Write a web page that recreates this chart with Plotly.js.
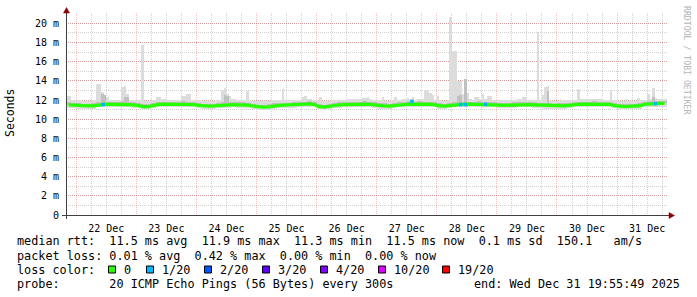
<!DOCTYPE html>
<html>
<head>
<meta charset="utf-8">
<script src="https://cdn.plot.ly/plotly-3.0.1.min.js"></script>
<style>html,body{margin:0;padding:0;background:#fff;}#chart{width:697px;height:297px;}</style>
</head>
<body>
<div id="chart"></div>
<script>
// ---------- DATA ----------
// 2-hour bins starting 2025-12-21 20:00
const binStartTime = '2025-12-21T20:00:00Z';
const binHours = 2;
const medianRtt = [
  11.50, 11.47,
  11.40, 11.37, 11.38, 11.40, 11.50, 11.55, 11.56, 11.55, 11.57, 11.56, 11.55, 11.50,
  11.42, 11.30, 11.32, 11.45, 11.55, 11.57, 11.56, 11.55, 11.57, 11.58, 11.56, 11.52,
  11.45, 11.38, 11.36, 11.38, 11.42, 11.47, 11.50, 11.52, 11.50, 11.49, 11.47, 11.35,
  11.26, 11.25, 11.28, 11.40, 11.45, 11.46, 11.47, 11.48, 11.52, 11.58, 11.60, 11.55,
  11.30, 11.27, 11.33, 11.45, 11.50, 11.52, 11.54, 11.55, 11.57, 11.58, 11.56, 11.50,
  11.40, 11.38, 11.37, 11.42, 11.52, 11.55, 11.57, 11.56, 11.58, 11.57, 11.56, 11.52,
  11.40, 11.37, 11.42, 11.53, 11.55, 11.56, 11.57, 11.56, 11.58, 11.57, 11.56, 11.55,
  11.46, 11.44, 11.47, 11.50, 11.52, 11.53, 11.52, 11.50, 11.48, 11.40, 11.38, 11.37,
  11.38, 11.40, 11.45, 11.54, 11.56, 11.57, 11.56, 11.58, 11.57, 11.56, 11.55, 11.42,
  11.33, 11.32, 11.34, 11.33, 11.40, 11.55, 11.60, 11.62, 11.64, 11.64
];
const smokeLo = [
  11.20, 11.18,
  11.10, 11.08, 11.08, 11.10, 11.22, 11.25, 11.26, 11.25, 11.27, 11.26, 11.25, 11.20,
  11.12, 11.02, 11.04, 11.15, 11.25, 11.27, 11.26, 11.25, 11.27, 11.28, 11.26, 11.22,
  11.15, 11.08, 11.06, 11.08, 11.12, 11.17, 11.20, 11.22, 11.20, 11.19, 11.17, 11.05,
  10.98, 10.97, 11.00, 11.10, 11.15, 11.16, 11.17, 11.18, 11.22, 11.28, 11.30, 11.25,
  11.02, 10.99, 11.04, 11.15, 11.20, 11.22, 11.24, 11.25, 11.27, 11.28, 11.26, 11.20,
  11.10, 11.08, 11.07, 11.12, 11.22, 11.25, 11.27, 11.26, 11.28, 11.27, 11.26, 11.22,
  11.10, 11.07, 11.12, 11.23, 11.25, 11.26, 11.27, 11.26, 11.28, 11.27, 11.26, 11.25,
  11.16, 11.14, 11.17, 11.20, 11.22, 11.23, 11.22, 11.20, 11.18, 11.10, 11.08, 11.07,
  11.08, 11.10, 11.15, 11.24, 11.26, 11.27, 11.26, 11.28, 11.27, 11.26, 11.25, 11.12,
  11.04, 11.03, 11.05, 11.04, 11.10, 11.25, 11.30, 11.32, 11.32, 11.32
];
const smokeHi = [
  12.40, 12.05,
  11.95, 11.92, 11.93, 11.98, 12.05, 12.10, 12.05, 12.00, 12.05, 12.08, 12.05, 12.00,
  11.95, 11.90, 11.92, 12.00, 12.05, 12.08, 12.05, 12.03, 12.05, 12.10, 12.08, 12.02,
  11.98, 11.92, 11.90, 11.93, 11.98, 12.02, 12.05, 12.08, 12.05, 12.02, 12.00, 11.92,
  11.85, 11.85, 11.88, 11.95, 12.00, 12.02, 12.00, 12.02, 12.05, 12.10, 12.12, 12.05,
  11.88, 11.85, 11.90, 12.00, 12.05, 12.05, 12.08, 12.08, 12.10, 12.12, 12.10, 12.02,
  11.95, 11.93, 11.92, 12.00, 12.05, 12.10, 12.08, 12.05, 12.10, 12.08, 12.05, 12.02,
  11.95, 11.92, 11.98, 12.05, 12.08, 12.10, 12.08, 12.05, 12.10, 12.08, 12.05, 12.05,
  12.00, 11.98, 12.00, 12.05, 12.10, 12.08, 12.05, 12.02, 12.00, 11.95, 11.93, 11.92,
  11.92, 11.95, 12.00, 12.05, 12.08, 12.10, 12.08, 12.10, 12.08, 12.05, 12.05, 11.95,
  11.88, 11.87, 11.90, 11.88, 11.95, 12.05, 12.10, 12.12, 12.12, 12.12
];
const smokeMidHi = [
  11.78, 11.74,
  11.65, 11.62, 11.63, 11.66, 11.80, 11.88, 11.84, 11.80, 11.83, 11.85, 11.82, 11.76,
  11.68, 11.56, 11.58, 11.70, 11.80, 11.84, 11.82, 11.80, 11.82, 11.86, 11.83, 11.78,
  11.70, 11.63, 11.61, 11.63, 11.68, 11.75, 11.78, 11.80, 11.77, 11.76, 11.73, 11.60,
  11.52, 11.51, 11.54, 11.66, 11.71, 11.72, 11.73, 11.75, 11.78, 11.84, 11.86, 11.80,
  11.56, 11.53, 11.59, 11.71, 11.76, 11.78, 11.80, 11.82, 11.84, 11.85, 11.82, 11.76,
  11.66, 11.64, 11.63, 11.68, 11.78, 11.82, 11.85, 11.82, 11.86, 11.84, 11.82, 11.78,
  11.66, 11.63, 11.70, 11.80, 11.82, 11.84, 11.84, 11.82, 11.86, 11.84, 11.82, 11.81,
  11.72, 11.70, 11.73, 11.76, 11.80, 11.80, 11.78, 11.76, 11.74, 11.66, 11.64, 11.63,
  11.64, 11.66, 11.71, 11.80, 11.83, 11.84, 11.82, 11.85, 11.84, 11.82, 11.81, 11.68,
  11.59, 11.58, 11.60, 11.59, 11.66, 11.82, 11.87, 11.90, 11.90, 11.90
];
// high-ping smoke spikes (hourly)
const spikeTime = [
  '2025-12-22 08:30','2025-12-22 09:30','2025-12-22 10:30','2025-12-22 11:30','2025-12-22 12:30',
  '2025-12-22 18:30','2025-12-22 19:30','2025-12-22 20:30',
  '2025-12-23 02:30','2025-12-23 08:30','2025-12-23 09:30',
  '2025-12-23 18:30','2025-12-23 19:30','2025-12-23 20:30','2025-12-23 21:30',
  '2025-12-24 10:30','2025-12-24 11:30','2025-12-24 12:30','2025-12-24 13:30','2025-12-24 20:30',
  '2025-12-25 10:30','2025-12-25 18:30','2025-12-25 19:30',
  '2025-12-26 01:30','2025-12-26 18:30','2025-12-26 19:30','2025-12-26 20:30',
  '2025-12-27 02:30','2025-12-27 07:30','2025-12-27 12:30','2025-12-27 14:30',
  '2025-12-27 19:30','2025-12-27 20:30','2025-12-27 21:30','2025-12-27 22:30',
  '2025-12-28 00:30','2025-12-28 05:30','2025-12-28 06:30','2025-12-28 07:30','2025-12-28 08:30',
  '2025-12-28 09:30','2025-12-28 10:30','2025-12-28 11:30','2025-12-28 12:30',
  '2025-12-28 15:30','2025-12-28 16:30','2025-12-28 18:30','2025-12-28 20:30','2025-12-28 21:30',
  '2025-12-29 10:30','2025-12-29 11:30','2025-12-29 16:30','2025-12-29 18:30','2025-12-29 19:30','2025-12-29 20:30',
  '2025-12-30 08:30','2025-12-30 21:30',
  '2025-12-31 03:30','2025-12-31 08:30','2025-12-31 12:30','2025-12-31 14:30','2025-12-31 15:30'
];
const spikeMax = [
  13.7, 13.7, 12.8, 12.5, 12.3,
  13.4, 13.5, 12.6,
  17.7, 12.35, 12.3,
  12.4, 12.45, 12.6, 12.65,
  13.0, 13.3, 12.6, 12.4, 12.9,
  13.2, 12.35, 12.4,
  12.35, 12.2, 12.2, 12.3,
  12.3, 12.3, 12.25, 12.3,
  13.0, 13.0, 12.7, 12.5,
  12.4, 20.7, 17.1, 17.1, 14.0,
  14.0, 12.6, 14.2, 12.7,
  12.3, 12.3, 12.6, 12.4, 12.4,
  12.3, 12.3, 19.07, 12.5, 13.4, 13.45,
  13.2, 13.0,
  12.15, 12.2, 12.6, 13.3, 12.2
];
const spikeMid = [
  null, null, 12.6, 12.5, null,
  null, 12.3, 12.3,
  null, null, null,
  null, null, null, null,
  null, 12.5, 12.4, null, null,
  null, null, null,
  null, null, null, null,
  null, null, null, null,
  null, null, null, null,
  null, null, null, null, 12.4,
  12.5, null, 14.2, null,
  null, null, null, null, null,
  null, null, null, null, null, 12.9,
  null, null,
  null, null, null, 12.3, null
];
// pings with loss
const lossTime = ['2025-12-22 10:47','2025-12-27 14:06','2025-12-28 09:30','2025-12-28 11:30','2025-12-28 19:30','2025-12-31 15:20'];
const lossValue = [11.52, 11.85, 11.52, 11.52, 11.55, 11.62];
const lossIndex = [1, 1, 1, 1, 1, 1];
const lossLabels = ['0', '1/20', '2/20', '3/20', '4/20', '10/20', '19/20'];
const lossColors = ['#26ff00', '#00b8ff', '#0059ff', '#5e00ff', '#7e00ff', '#dd00ff', '#ff0000'];
const yTickVals = [0, 2, 4, 6, 8, 10, 12, 14, 16, 18, 20];
const yTickText = ['0', '2 m', '4 m', '6 m', '8 m', '10 m', '12 m', '14 m', '16 m', '18 m', '20 m'];
const statLines = [
  'median rtt:  11.5 ms avg  11.9 ms max  11.3 ms min  11.5 ms now  0.1 ms sd  150.1   am/s',
  'packet loss: 0.01 % avg  0.42 % max  0.00 % min  0.00 % now'
];
const probeText = 'probe:       20 ICMP Echo Pings (56 Bytes) every 300s';
const endText = 'end: Wed Dec 31 19:55:49 2025';

// ---------- LAYOUT HELPERS ----------
const W = 697, H = 297, L = 66, R = 667, T = 13, B = 215;
const px = x => (x - L) / (R - L);
const py = y => (B - y) / (B - T);
const nb = s => s.replace(/ /g, '\u00a0');
const MONO = 'DejaVu Sans Mono, monospace';

const t0 = Date.parse(binStartTime);
const binX = medianRtt.map((_, i) => t0 + (i * binHours + binHours / 2) * 3600e3);
const spikeBase = 11.6;

const LIGHT = '#dcdcdc', MID = '#c0c0c0';
const traces = [
  { type: 'bar', x: binX, base: smokeLo, y: smokeHi.map((v, i) => v - smokeLo[i]),
    width: binHours * 3600e3, marker: { color: LIGHT, line: { width: 0 } }, hoverinfo: 'skip' },
  { type: 'bar', x: spikeTime, base: spikeBase, y: spikeMax.map(v => v - spikeBase),
    width: 3600e3, marker: { color: LIGHT, line: { width: 0 } }, hoverinfo: 'skip' },
  { type: 'bar', x: binX, base: medianRtt, y: smokeMidHi.map((v, i) => v - medianRtt[i]),
    width: binHours * 3600e3, marker: { color: MID, line: { width: 0 } }, hoverinfo: 'skip' },
  { type: 'bar', x: spikeTime.filter((_, i) => spikeMid[i] !== null), base: spikeBase,
    y: spikeMid.filter(v => v !== null).map(v => v - spikeBase),
    width: 3600e3, marker: { color: MID, line: { width: 0 } }, hoverinfo: 'skip' },
  { type: 'scatter', mode: 'lines', x: binX, y: medianRtt,
    line: { color: lossColors[0], width: 3.3 }, hoverinfo: 'skip' },
  { type: 'scatter', mode: 'markers', x: lossTime, y: lossValue,
    marker: { symbol: 'square', size: 3.5, color: lossIndex.map(k => lossColors[k]), line: { width: 0 } },
    hoverinfo: 'skip' }
];

const annotations = [];
function addText(text, x, y, opts) {
  annotations.push(Object.assign({
    xref: 'paper', yref: 'paper', x: px(x), y: py(y), text: nb(text), showarrow: false,
    xanchor: 'left', yanchor: 'middle', borderpad: 0,
    font: { family: MONO, size: 11.8, color: '#000' }
  }, opts || {}));
}
addText(statLines[0], 16, 241.5);
addText(statLines[1], 16, 255.5);
addText('loss color:', 16, 269.5);
const legendBoxX = [108, 146, 204, 262, 320, 378, 442];
lossLabels.forEach((lab, i) => addText(lab, legendBoxX[i] + 15, 269.5));
addText(probeText, 16, 283.5);
addText(endText, 681, 283.5, { xanchor: 'right' });
addText('Seconds', 10, 113, { xanchor: 'center', textangle: -90, font: { family: MONO, size: 11.5, color: '#000' } });
addText('RRDTOOL / TOBI OETIKER', 687, 60, { xanchor: 'center', textangle: 90, font: { family: MONO, size: 8.2, color: '#b4b4b4' } });

const shapes = [];
lossColors.forEach((c, i) => shapes.push({
  type: 'rect', xref: 'paper', yref: 'paper',
  x0: px(legendBoxX[i] + 0.5), x1: px(legendBoxX[i] + 7.5), y0: py(273), y1: py(266),
  fillcolor: c, line: { color: '#000', width: 1 }
}));
const AX = '#404040', ARROW = '#8b0000';
shapes.push({ type: 'line', xref: 'paper', yref: 'paper', x0: px(62), x1: px(670), y0: py(215.5), y1: py(215.5), line: { color: AX, width: 1 } });
shapes.push({ type: 'line', xref: 'paper', yref: 'paper', x0: px(66.5), x1: px(66.5), y0: py(219), y1: py(11), line: { color: AX, width: 1 } });
shapes.push({ type: 'path', xref: 'paper', yref: 'paper', fillcolor: ARROW, line: { color: ARROW, width: 0.5 },
  path: `M ${px(66.5)},${py(7.5)} L ${px(63.5)},${py(13)} L ${px(69.5)},${py(13)} Z` });
shapes.push({ type: 'path', xref: 'paper', yref: 'paper', fillcolor: ARROW, line: { color: ARROW, width: 0.5 },
  path: `M ${px(674.5)},${py(215.5)} L ${px(669)},${py(212.5)} L ${px(669)},${py(218.5)} Z` });

const MAJOR = 'rgba(235,60,60,0.34)', MINOR = 'rgba(120,120,120,0.34)';
const layout = {
  width: W, height: H,
  margin: { l: L, r: W - R, t: T, b: H - B, pad: 0 },
  paper_bgcolor: '#fff', plot_bgcolor: '#fff',
  showlegend: false, barmode: 'overlay', bargap: 0,
  xaxis: {
    type: 'date', range: ['2025-12-21 19:55:49', '2025-12-31 19:55:49'],
    tick0: '2025-12-22', dtick: 86400000, tickformat: '%d %b', ticklabelmode: 'period',
    showgrid: true, gridcolor: MAJOR, griddash: '1px,1px', gridwidth: 1,
    minor: { dtick: 21600000, tick0: '2025-12-22', showgrid: true, gridcolor: MINOR, griddash: '1px,1px', gridwidth: 1, ticks: '' },
    ticks: 'outside', ticklen: 4, tickcolor: 'rgba(0,0,0,0)', showline: false, zeroline: false,
    tickfont: { family: MONO, size: 10, color: '#000' }, fixedrange: true
  },
  yaxis: {
    range: [0, 21.08], tickmode: 'array', tickvals: yTickVals, ticktext: yTickText,
    showgrid: true, gridcolor: MAJOR, griddash: '1px,1px', gridwidth: 1,
    minor: { tickmode: 'linear', tick0: 0, dtick: 1, showgrid: true, gridcolor: MINOR, griddash: '1px,1px', gridwidth: 1, ticks: '' },
    ticks: 'outside', ticklen: 4, tickcolor: 'rgba(0,0,0,0)', showline: false, zeroline: false,
    tickfont: { family: MONO, size: 10, color: '#000' }, fixedrange: true
  },
  annotations: annotations,
  shapes: shapes
};
Plotly.newPlot('chart', traces, layout, { staticPlot: true, displayModeBar: false });
</script>
</body>
</html>
